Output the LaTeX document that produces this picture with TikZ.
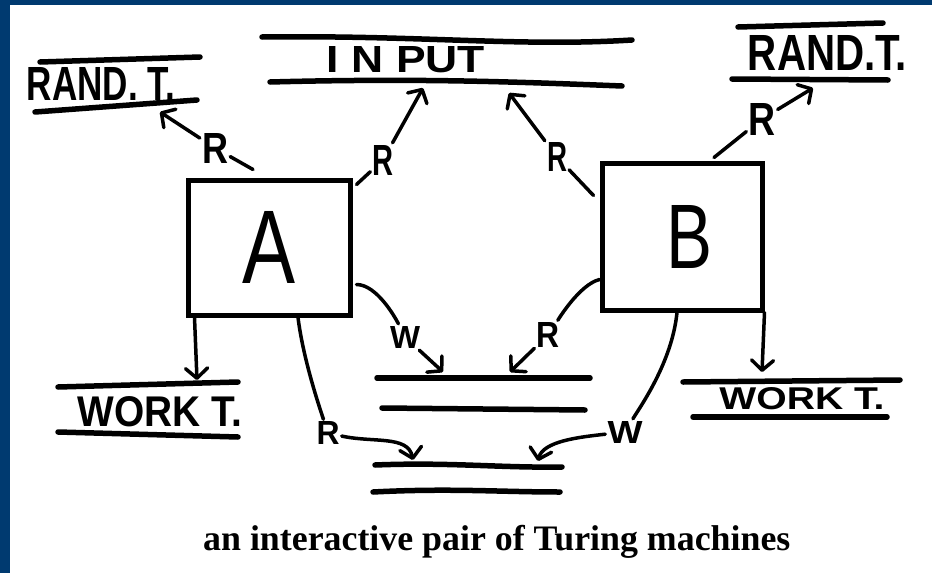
\documentclass[tikz,border=0pt]{standalone}
\usepackage{fontspec}
\usepackage{graphicx}
\setsansfont{Liberation Sans}
\newfontfamily\capfont{Liberation Serif}
\usetikzlibrary{arrows.meta,calc}
\definecolor{framecol}{RGB}{0,58,112}
\newcommand{\hwtext}[3]{\resizebox{#1pt}{#2pt}{\sffamily\bfseries #3}}
\newcommand{\hwthin}[3]{\resizebox{#1pt}{#2pt}{\sffamily #3}}
\begin{document}
\begin{tikzpicture}[x=1pt,y=-1pt,
  tape/.style={line width=5.5pt,line cap=round},
  box/.style={draw,line width=5pt,inner sep=0pt},
  conn/.style={line width=3.5pt,line cap=round},
  arr/.style={conn,-{Straight Barb[length=10pt,width=22pt,round]}},
  lbl/.style={inner sep=2pt}]
% frame
\fill[framecol] (0,0) rectangle (932,573);
\fill[white] (10,5) rectangle (932,573);
\useasboundingbox (0,0) rectangle (932,573);

% tapes
\draw[tape] (262,37) .. controls (420,35) and (520,47) .. (632,40);
\draw[tape] (270,82) .. controls (420,78) and (520,82) .. (622,86);
\draw[tape] (40,62) -- (200,57);
\draw[tape] (35,112) -- (197,100);
\draw[tape] (738,27) -- (883,23);
\draw[tape] (732,79) -- (888,80);
\draw[tape] (58,387) -- (238,382);
\draw[tape] (58,432) -- (238,437);
\draw[tape] (683,382) -- (900,380);
\draw[tape] (693,417) -- (887,417);
\draw[tape] (377,378) -- (590,378);
\draw[tape] (382,408) -- (585,410);
\draw[tape] (375,465) .. controls (450,462) and (500,468) .. (562,467);
\draw[tape] (373,492) .. controls (450,488) and (500,492) .. (560,492);

% tape labels
\node (input) at (406,60) {\hwtext{158}{26}{I N PUT}};
\node (randl) at (101,83.5) {\hwtext{148}{33}{RAND. T.}};
\node (randr) at (827.5,52.5) {\hwtext{159}{35}{RAND.T.}};
\node (workl) at (160,412) {\hwtext{164}{30}{WORK T.}};
\node (workr) at (802,399) {\hwtext{165}{22}{WORK T.}};

% machines
\node[box,minimum width=162pt,minimum height=135pt] (A) at (269,247.5) {\hwthin{53}{72}{A}};
\node[box,minimum width=160pt,minimum height=147pt] (B) at (682,236.5) {\hspace{16pt}\hwthin{46}{63}{B}};

% connector labels
\node[lbl] (r1) at (215,148) {\hwtext{26}{30}{R}};
\node[lbl] (r2) at (383,160) {\hwtext{21}{30}{R}};
\node[lbl] (r3) at (557,157) {\hwtext{20}{29}{R}};
\node[lbl] (r4) at (762,119) {\hwtext{27}{32}{R}};
\node[lbl] (w1) at (405,337) {\hwtext{30}{22}{W}};
\node[lbl] (r5) at (548,335) {\hwtext{23}{25}{R}};
\node[lbl] (r6) at (328,433) {\hwtext{23}{23}{R}};
\node[lbl] (w2) at (625,432) {\hwtext{35}{22}{W}};

% arrow targets on the tapes
\coordinate (t1) at (160,112);
\coordinate (t2) at (423,88);
\coordinate (t3) at (509,93);
\coordinate (t4) at (813,88);
\coordinate (t5) at (197,380);
\coordinate (t6) at (413,460);
\coordinate (t7) at (443,372);
\coordinate (t8) at (510,372);
\coordinate (t9) at (538,461);
\coordinate (t10) at (762,372);

% connectors
\draw[conn] ($(A.north)+(-16,-8)$) -- (r1);
\draw[arr] (r1) -- (t1);
\draw[conn] ($(A.north east)+(4,7)$) -- (r2);
\draw[arr] (r2) -- (t2);
\draw[conn] ($(B.west)+(-6,-41)$) -- (r3);
\draw[arr] (r3) -- (t3);
\draw[conn] ($(B.north)+(32,-3)$) -- (r4);
\draw[arr] (r4) -- (t4);
\draw[arr] ($(A.south west)+(9,0)$) -- (t5);
\draw[conn] ($(A.south)+(29,0)$) .. controls +(5,40) and +(-10,-30) .. (r6);
\draw[arr] (r6) .. controls +(45,10) and +(-5,-25) .. (t6);
\draw[conn] ($(A.east)+(4,37)$) .. controls +(20,0) and +(-10,-20) .. (w1);
\draw[arr] (w1) -- (t7);
\draw[conn] ($(B.west)+(0,43)$) .. controls +(-20,5) and +(10,-15) .. (r5);
\draw[arr] (r5) -- (t8);
\draw[conn] ($(B.south)+(-5,0)$) .. controls +(-5,50) and +(15,-25) .. (w2);
\draw[arr] (w2) .. controls +(-45,5) and +(5,-20) .. (t9);
\draw[arr] (B.south east) -- (t10);

% caption
\node[anchor=base west,inner sep=0pt] (cap) at (203,550) {\resizebox{587pt}{!}{\capfont\bfseries an interactive pair of Turing machines}};
\end{tikzpicture}
\end{document}
